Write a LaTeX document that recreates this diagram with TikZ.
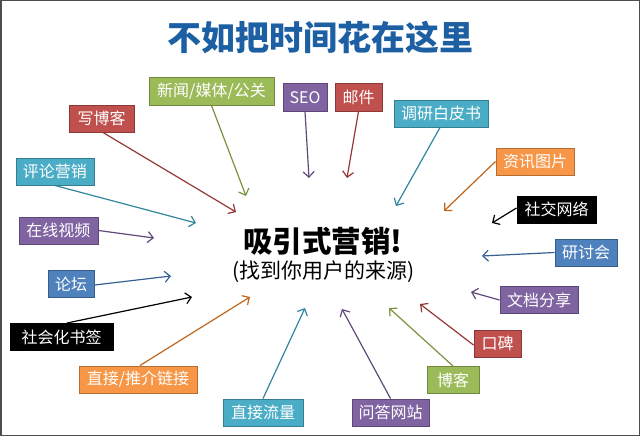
\documentclass[tikz,border=0pt]{standalone}
\usepackage{fontspec}
\setmainfont{Noto Sans CJK SC}
\usetikzlibrary{arrows.meta}
\definecolor{rF}{HTML}{C0504D}\definecolor{rD}{HTML}{8C3836}\definecolor{rA}{HTML}{953735}
\definecolor{gF}{HTML}{9BBB59}\definecolor{gD}{HTML}{71893F}\definecolor{gA}{HTML}{77933C}
\definecolor{tF}{HTML}{4BACC6}\definecolor{tD}{HTML}{357D91}\definecolor{tA}{HTML}{31859C}
\definecolor{pF}{HTML}{8064A2}\definecolor{pD}{HTML}{5C4776}\definecolor{pA}{HTML}{5F497A}
\definecolor{bF}{HTML}{4F81BD}\definecolor{bD}{HTML}{385D8A}\definecolor{bA}{HTML}{376092}
\definecolor{oF}{HTML}{F79646}\definecolor{oD}{HTML}{B66D31}\definecolor{oA}{HTML}{C0651C}
\definecolor{titleblue}{HTML}{1D5FA3}
\definecolor{frame}{HTML}{4D4D4D}
\begin{document}
\begin{tikzpicture}[x=1pt,y=-1pt,
  box/.style={line width=1pt, text=white, font=\fontsize{16}{17}\selectfont, minimum height=27pt, inner sep=0pt},
  redbox/.style={box, fill=rF, draw=rD},
  greenbox/.style={box, fill=gF, draw=gD},
  tealbox/.style={box, fill=tF, draw=tD},
  purplebox/.style={box, fill=pF, draw=pD},
  bluebox/.style={box, fill=bF, draw=bD},
  orangebox/.style={box, fill=oF, draw=oD},
  blackbox/.style={box, fill=black, draw=black},
  arr/.style={line width=1.2pt, -{Straight Barb[length=5.5pt,width=11pt]}},
  redarr/.style={arr, draw=rA}, greenarr/.style={arr, draw=gA},
  tealarr/.style={arr, draw=tA}, purplearr/.style={arr, draw=pA},
  bluearr/.style={arr, draw=bA}, orangearr/.style={arr, draw=oA},
  blackarr/.style={arr, draw=black}]
\useasboundingbox (0,0) rectangle (640,436);
\draw[frame, line width=1.5pt] (0.75,0.75) rectangle (639.25,435.25);

\node[font=\fontsize{34}{36}\selectfont\bfseries, text=titleblue] (title) at (320,37) {不如把时间花在这里};
\node[font=\fontsize{29.5}{31}\selectfont\bfseries] (main) at (323,241.5) {吸引式营销!};
\node[font=\fontsize{21}{23}\selectfont] (sub) at (323.5,271.5) {(找到你用户的来源)};

\node[redbox, minimum width=65pt] (n1) at (101.5,118.5) {写博客};
\node[greenbox, minimum width=125pt] (n2) at (211.5,91.5) {新闻/媒体/公关};
\node[purplebox, minimum width=44pt] (n3) at (305,97.5) {SEO};
\node[redbox, minimum width=47pt] (n4) at (358.5,97.5) {邮件};
\node[tealbox, minimum width=94pt] (n5) at (441,113.5) {调研白皮书};
\node[orangebox, minimum width=78pt] (n6) at (535,161.5) {资讯图片};
\node[blackbox, minimum width=79pt] (n7) at (556.5,209.5) {社交网络};
\node[bluebox, minimum width=62pt] (n8) at (586,252.5) {研讨会};
\node[purplebox, minimum width=78pt] (n9) at (539,300) {文档分享};
\node[redbox, minimum width=47pt] (n10) at (497.5,343.5) {口碑};
\node[greenbox, minimum width=52pt] (n11) at (453,380) {博客};
\node[purplebox, minimum width=77pt] (n12) at (390.5,412.5) {问答网站};
\node[tealbox, minimum width=80pt] (n13) at (263,412.5) {直接流量};
\node[orangebox, minimum width=118pt] (n14) at (138,379.5) {直接/推介链接};
\node[blackbox, minimum width=103pt] (n15) at (61.5,337) {社会化书签};
\node[bluebox, minimum width=46pt] (n16) at (71,284) {论坛};
\node[purplebox, minimum width=79pt] (n17) at (58.5,230.5) {在线视频};
\node[tealbox, minimum width=78pt] (n18) at (55,171.5) {评论营销};

\coordinate (t1) at (236,212);
\coordinate (t2) at (246,196);
\coordinate (t3) at (309,178);
\coordinate (t4) at (347,178);
\coordinate (t5) at (396,206);
\coordinate (t6) at (444,211);
\coordinate (t7) at (492,223);
\coordinate (t8) at (482,256);
\coordinate (t9) at (471,292);
\coordinate (t10) at (420,304);
\coordinate (t11) at (389,308);
\coordinate (t12) at (342,309);
\coordinate (t13) at (305,308);
\coordinate (t14) at (250,297);
\coordinate (t15) at (192,297);
\coordinate (t16) at (171,276);
\coordinate (t17) at (154,238);
\coordinate (t18) at (196,223);

\draw[redarr] ([xshift=1.5pt]n1.south) -- (t1);
\draw[greenarr] (n2.south) -- (t2);
\draw[purplearr] (n3.south) -- (t3);
\draw[redarr] (n4.south) -- (t4);
\draw[tealarr] ([xshift=-1pt]n5.south) -- (t5);
\draw[orangearr] (n6.west) -- (t6);
\draw[blackarr] ([yshift=1.5pt]n7.west) -- (t7);
\draw[bluearr] (n8.west) -- (t8);
\draw[purplearr] (n9.west) -- (t9);
\draw[redarr] ([yshift=-1.5pt]n10.west) -- (t10);
\draw[greenarr] (n11.north) -- (t11);
\draw[purplearr] (n12.north) -- (t12);
\draw[tealarr] (n13.north) -- (t13);
\draw[orangearr] ([xshift=2pt]n14.north) -- (t14);
\draw[blackarr] ([xshift=5.5pt]n15.north) -- (t15);
\draw[bluearr] ([yshift=-1pt]n16.east) -- (t16);
\draw[purplearr] (n17.east) -- (t17);
\draw[tealarr] (n18.south) -- (t18);
\end{tikzpicture}
\end{document}
